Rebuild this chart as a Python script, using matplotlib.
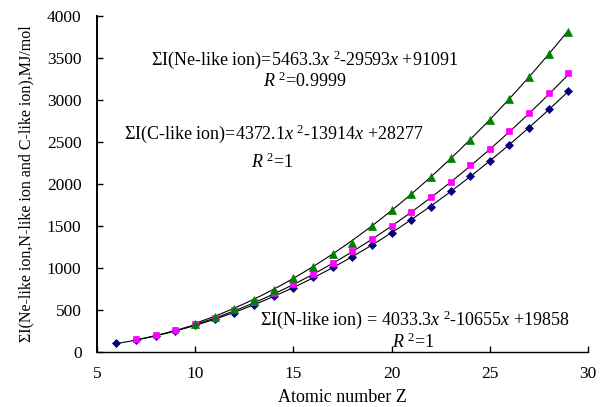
import numpy as np
import matplotlib
matplotlib.use("Agg")
import matplotlib.pyplot as plt

plt.rcParams["font.family"] = ["Liberation Serif", "DejaVu Serif"]
plt.rcParams["mathtext.fontset"] = "custom"
plt.rcParams["mathtext.rm"] = "Liberation Serif"
plt.rcParams["mathtext.it"] = "Liberation Serif:italic"
plt.rcParams["mathtext.bf"] = "Liberation Serif:bold"

# Sum of ionization energies (MJ/mol) against atomic number Z
z_n = list(range(6, 30))
sum_n = [103, 140, 194, 250, 321, 389, 465, 565, 665, 760,
         893, 1008, 1131, 1274, 1420, 1567, 1730, 1913, 2092, 2274,
         2464, 2671, 2889, 3107]

z_c = list(range(7, 30))
sum_c = [151, 205, 260, 335, 409, 495, 595, 705, 810,
         929, 1063, 1202, 1349, 1500, 1670, 1849, 2024, 2222, 2421,
         2631, 2849, 3079, 3317]

z_ne = list(range(10, 30))
sum_ne = [335, 420, 512, 622, 740, 880,
          1016, 1163, 1300, 1496, 1687, 1877, 2087, 2313, 2524,
          2762, 3012, 3270, 3544, 3813]

# Quadratic trend-line coefficients (kJ/mol) as printed on the chart
coef_n = [4033.3, -10655, 19858]
coef_c = [4372.1, -13914, 28277]
coef_ne = [5463.3, -29593, 91091]

fig = plt.figure(figsize=(6.05, 4.07), dpi=100)
ax = fig.add_axes([0.160, 0.135, 0.812, 0.826])

series = [
    (z_n, sum_n, coef_n, "D", "#000080", 4.0),
    (z_c, sum_c, coef_c, "s", "#FF00FF", 4.8),
    (z_ne, sum_ne, coef_ne, "^", "#008000", 5.8),
]
for z, s, coef, mk, col, ms in series:
    zz = np.linspace(min(z), max(z), 200)
    ax.plot(zz, np.polyval(coef, zz) / 1000.0, color="black", lw=0.8, zorder=2)
for z, s, coef, mk, col, ms in series:
    ax.plot(z, s, linestyle="none", marker=mk, color=col, markersize=ms,
            markeredgewidth=0.5, markeredgecolor=col, zorder=3)

ax.set_xlim(5, 30)
ax.set_ylim(0, 4000)
ax.set_xticks(range(5, 31, 5))
ax.set_yticks(range(0, 4001, 500))
ax.spines["top"].set_visible(False)
ax.spines["right"].set_visible(False)
ax.spines["left"].set_linewidth(1.4)
ax.spines["bottom"].set_linewidth(1.0)
ax.tick_params(direction="in", length=4, width=1.0, labelsize=12.5)
ax.tick_params(axis="y", pad=11)
ax.tick_params(axis="x", pad=10)

ax.set_xlabel("Atomic number Z", fontsize=13, labelpad=5)
ax.set_ylabel("ΣI(Ne-like ion,N-like ion and C-like ion),MJ/mol", fontsize=11.5, labelpad=9)

def at(px, py, txt):
    fig.text(px / 605.0, 1 - py / 407.0, txt, ha="center", va="center", fontsize=13)

at(305, 60, "ΣI(Ne-like ion)=5463.3$x$ $^{2}$-29593$x$ +91091")
at(305, 81, "$R$ $^{2}$=0.9999")
at(274, 134, "ΣI(C-like ion)=4372.1$x$ $^{2}$-13914$x$ +28277")
at(272, 162, "$R$ $^{2}$=1")
at(415, 320, "ΣI(N-like ion) = 4033.3$x$ $^{2}$-10655$x$ +19858")
at(413, 342, "$R$ $^{2}$=1")

fig.savefig("out.png", dpi=100)
